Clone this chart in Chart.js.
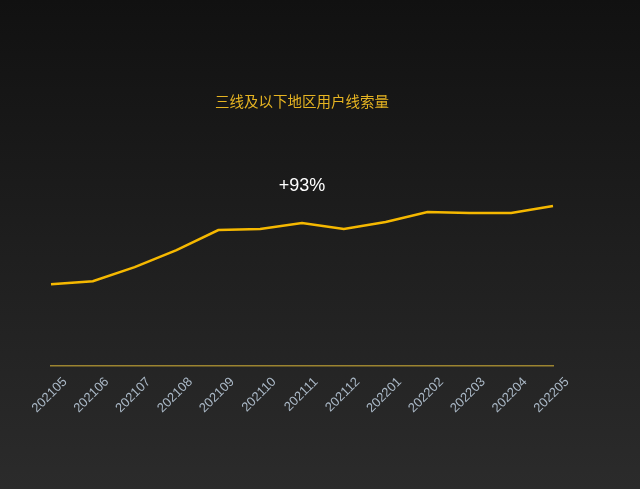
<!DOCTYPE html>
<html>
<head>
<meta charset="utf-8">
<script src="https://cdn.jsdelivr.net/npm/chart.js@4"></script>
<style>
  html, body { margin: 0; padding: 0; }
  body {
    width: 640px; height: 489px;
    background: linear-gradient(to bottom, #111111 0%, #1d1d1d 45%, #2b2b2b 100%);
  }
  #wrap { width: 640px; height: 489px; }
</style>
</head>
<body>
<div id="wrap"><canvas id="leadsChart"></canvas></div>
<script>
// months shown along the x axis
const months = ["202105", "202106", "202107", "202108", "202109", "202110", "202111",
                "202112", "202201", "202202", "202203", "202204", "202205"];
// lead volume (relative units)
const leads = [81, 84, 98, 115, 135, 136, 142, 136, 143, 153, 152, 152, 159];
const chartTitle = "三线及以下地区用户线索量";
const growthLabel = "+93%";

let ctx = document.getElementById("leadsChart").getContext("2d");

let chart = new Chart(ctx, {
    type: "line",
    data: {
        labels: months,
        datasets: [{
            label: chartTitle,
            data: leads,
            borderColor: "#f5b800",
            borderWidth: 2.5,
            pointRadius: 0,
            tension: 0,
            fill: false
        }]
    },
    options: {
        responsive: true,
        maintainAspectRatio: false,
        animation: false,
        layout: { padding: { left: 51, right: 87, top: 0, bottom: 64 } },
        plugins: {
            legend: { display: false },
            tooltip: { enabled: false },
            title: {
                display: true,
                text: chartTitle,
                fullSize: false,
                color: "#e6b422",
                font: { family: "'Noto Sans CJK SC', sans-serif", size: 14.5, weight: "normal" },
                padding: { top: 93, bottom: 0 }
            },
            subtitle: {
                display: true,
                text: growthLabel,
                fullSize: false,
                color: "#ffffff",
                font: { family: "'Liberation Sans', Arial, sans-serif", size: 18 },
                padding: { top: 65, bottom: 3 }
            }
        },
        scales: {
            x: {
                offset: false,
                grid: { display: false, drawTicks: false },
                border: { display: true, color: "#9c8430", width: 1.5 },
                ticks: {
                    color: "#aab8c6",
                    font: { family: "'Liberation Sans', Arial, sans-serif", size: 13 },
                    minRotation: 45,
                    maxRotation: 45,
                    autoSkip: false,
                    padding: 9,
                    labelOffset: 14
                }
            },
            y: {
                display: false,
                min: 0,
                max: 165
            }
        }
    }
});
</script>
</body>
</html>
